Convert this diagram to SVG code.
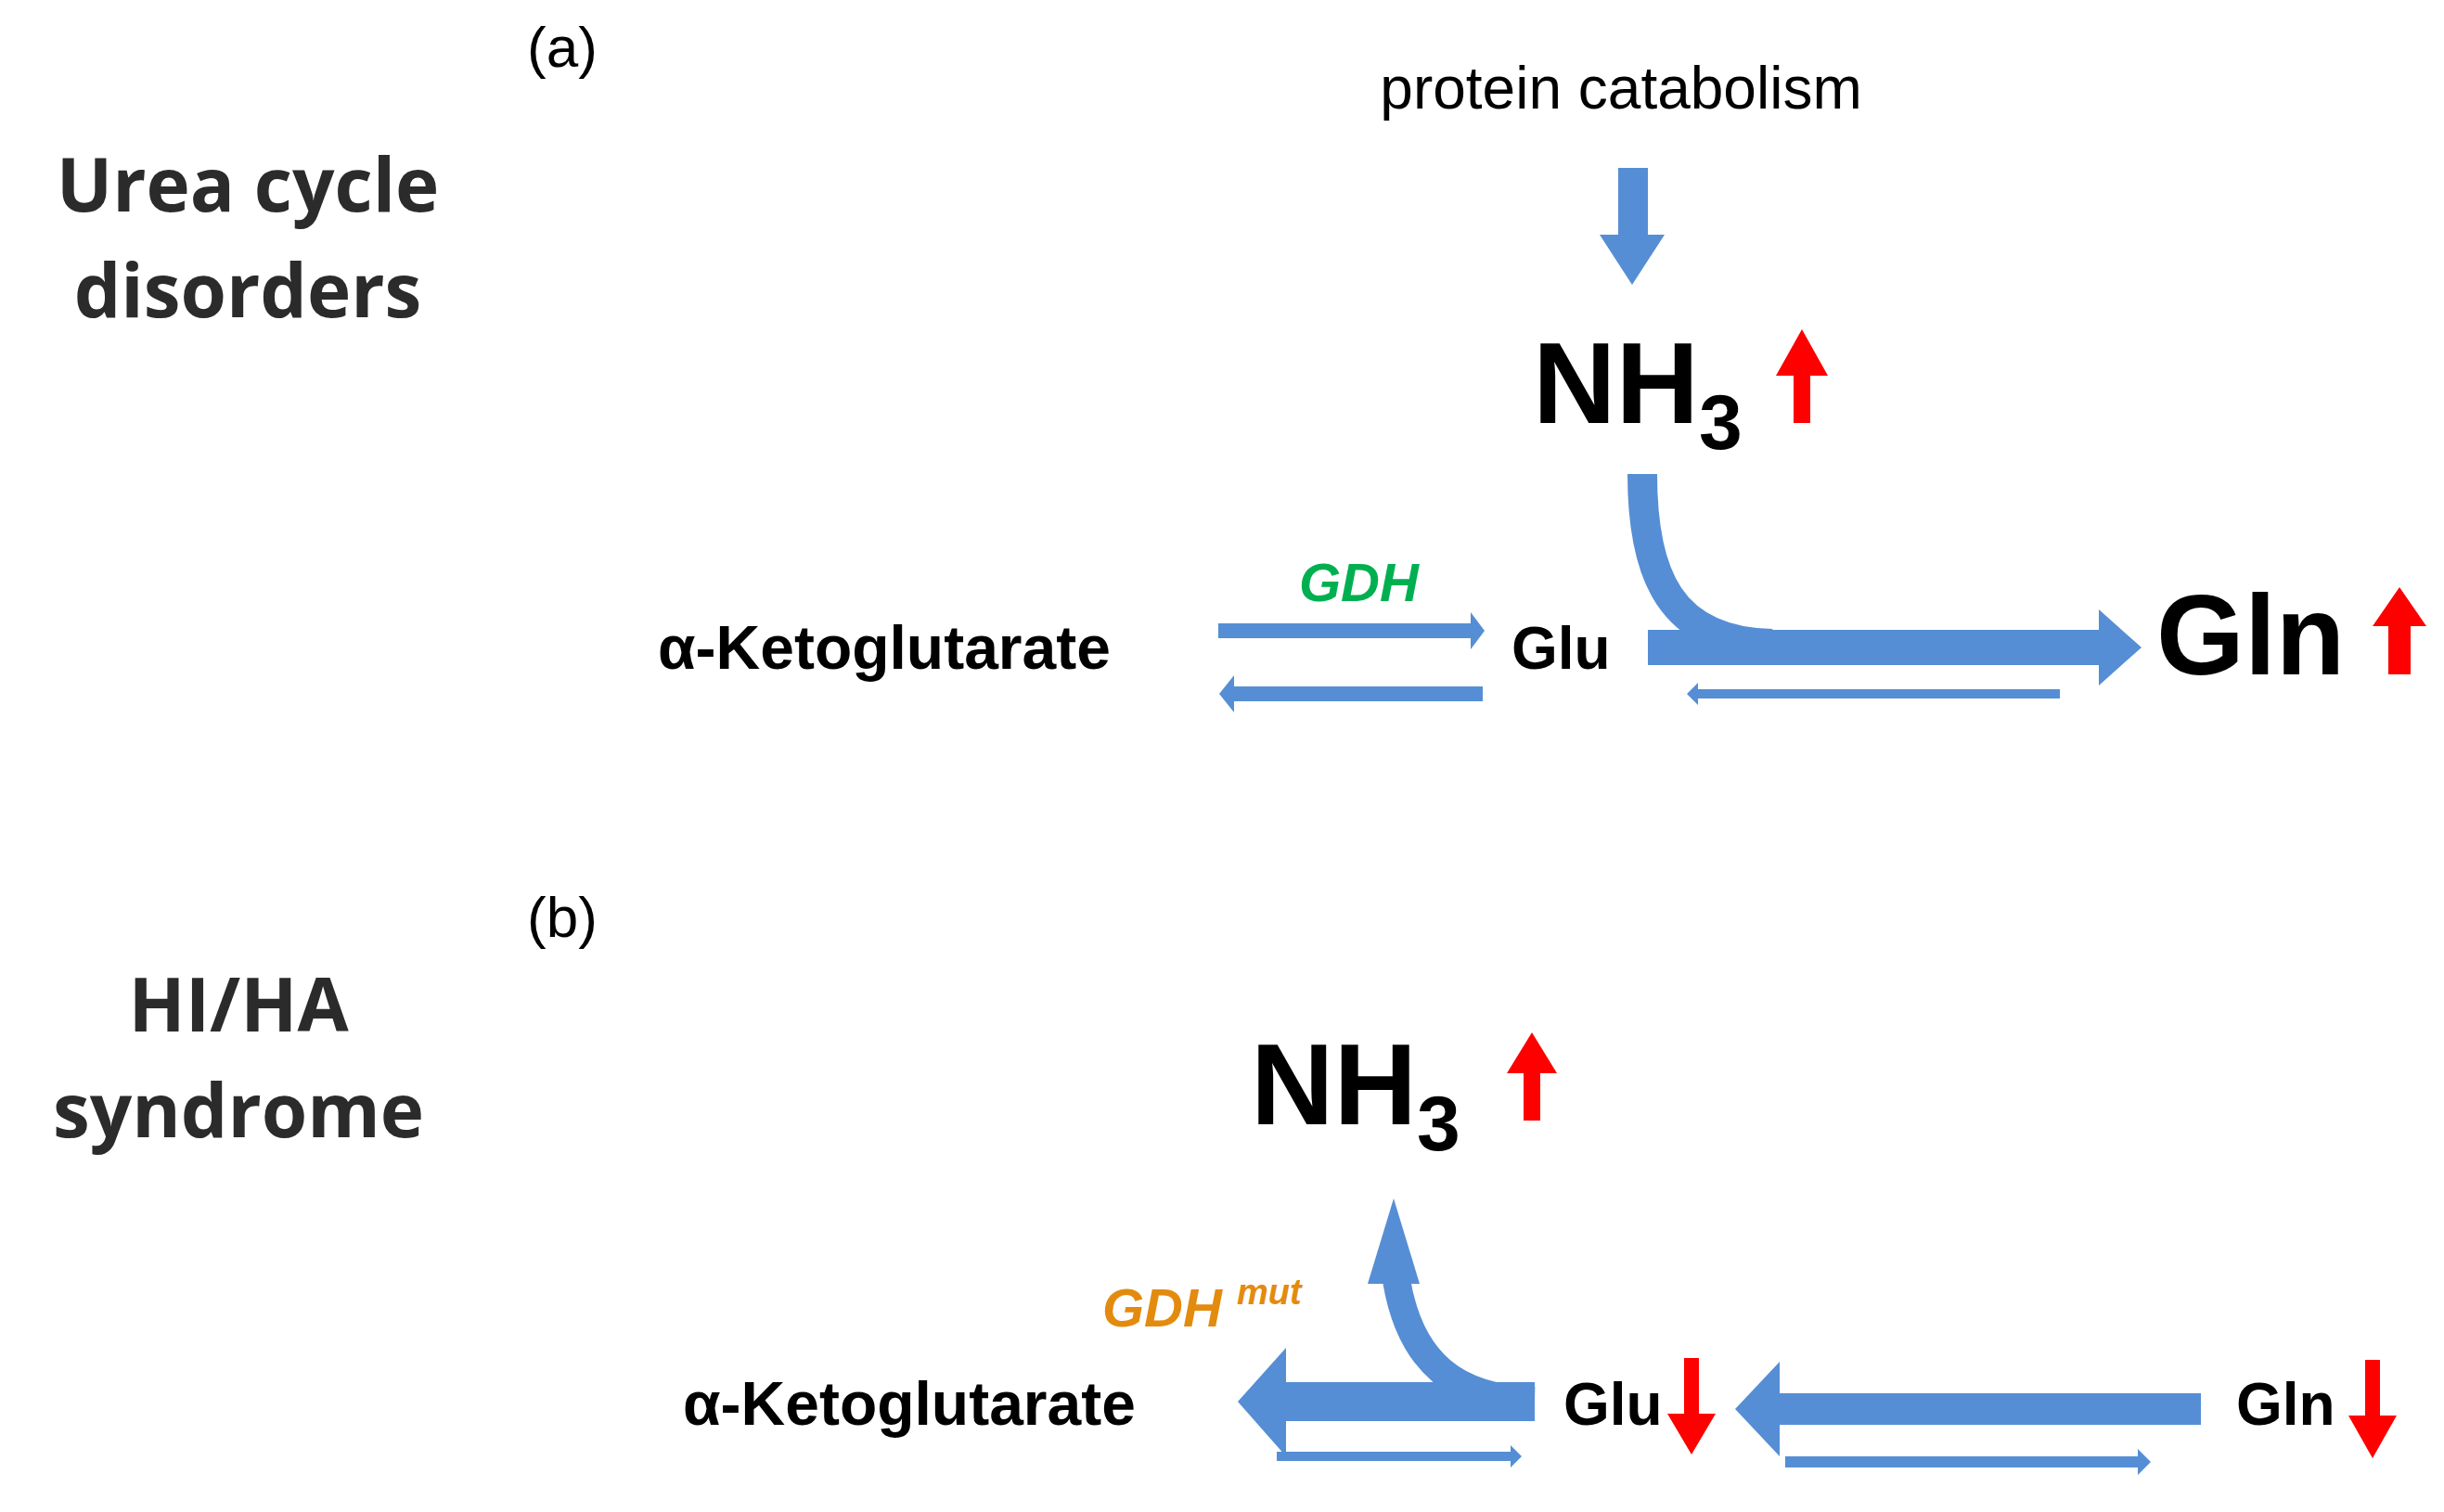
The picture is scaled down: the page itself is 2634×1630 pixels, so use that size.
<svg xmlns="http://www.w3.org/2000/svg" width="2634" height="1630" viewBox="0 0 2634 1630">
<style>
.t{font-family:"Liberation Sans",Arial,sans-serif;font-weight:bold;fill:#000}
.lbl{font-family:"Open Sans","DejaVu Sans",sans-serif;font-weight:bold;fill:#2b2b2b;font-size:80px;text-anchor:middle}
.pan{font-family:"Liberation Sans",Arial,sans-serif;font-size:62px;fill:#000}
.b{fill:#558ED5}
.r{fill:#FF0000}
</style>
<rect width="2634" height="1630" fill="#fff"/>
<g id="labels">
<text class="pan" x="568" y="72">(a)</text>
<text class="lbl" x="267" y="228">Urea cycle</text>
<text class="lbl" x="267" y="342">disorders</text>
<text class="pan" x="568" y="1010">(b)</text>
<text class="lbl" x="257" y="1112">HI/HA</text>
<text class="lbl" x="257" y="1226">syndrome</text>
</g>
<g id="a-protein"><text x="1747" y="117" text-anchor="middle" style="font-family:'Liberation Sans',Arial,sans-serif;font-size:64px;fill:#000">protein catabolism</text></g>
<g id="a-nh3"><text class="t" x="1652" y="456" font-size="124">NH<tspan font-size="84" dy="28">3</tspan></text>
<path class="r" d="M1933 456V405H1914L1942 355L1970 405H1951V456Z"/></g>
<g id="a-aKG"><text class="t" x="709" y="721" font-size="66">α-Ketoglutarate</text></g>
<g id="a-glu"><text class="t" x="1629" y="721" font-size="64">Glu</text></g>
<g id="a-gln"><text class="t" x="2324" y="727" font-size="122">Gln</text>
<path class="r" d="M2574 727V675H2557L2586 633L2615 675H2598V727Z"/></g>
<g id="a-gdh"><text x="1400" y="648" style="font-family:'Liberation Sans',Arial,sans-serif;font-weight:bold;font-style:italic;font-size:58px;fill:#00B050">GDH</text></g>
<g id="b-nh3"><text class="t" x="1348" y="1212" font-size="124">NH<tspan font-size="84" dy="28">3</tspan></text>
<path class="r" d="M1642 1208V1157H1624L1651 1113L1678 1157H1660V1208Z"/></g>
<g id="b-aKG"><text class="t" x="736" y="1536" font-size="66">α-Ketoglutarate</text></g>
<g id="b-glu"><text class="t" x="1685" y="1536" font-size="64">Glu</text>
<path class="r" d="M1815 1464V1524H1797L1823 1568L1849 1524H1831V1464Z"/></g>
<g id="b-gln"><text class="t" x="2410" y="1536" font-size="64">Gln</text>
<path class="r" d="M2549 1466V1526H2531L2557 1572L2583 1526H2565V1466Z"/></g>
<g id="b-gdh"><text x="1188" y="1430" style="font-family:'Liberation Sans',Arial,sans-serif;font-weight:bold;font-style:italic;font-size:58px;fill:#E38B0E">GDH <tspan font-size="38" dy="-24">mut</tspan></text></g>
<g id="connectors">
<path class="b" d="M1744 181H1776V253H1794L1759 307L1724 253H1744Z"/>
<path d="M1770 511C1770 620 1800 692 1910 694" fill="none" stroke="#558ED5" stroke-width="32"/>
<path class="b" d="M1776 679H2262V657L2308 698L2262 739V717H1776Z"/>
<path class="b" d="M2220 743V753H1830V760L1818 748L1830 736V743Z"/>
<path class="b" d="M1313 672H1585V660L1600 680L1585 700V688H1313Z"/>
<path class="b" d="M1598 740V756H1330V768L1314 748L1330 728V740Z"/>
<path d="M1654 1510C1570 1508 1520 1470 1505 1380" fill="none" stroke="#558ED5" stroke-width="30"/>
<path class="b" d="M1474 1384H1530L1502 1292Z"/>
<path class="b" d="M1654 1490V1532H1386V1570L1334 1511L1386 1453V1490Z"/>
<path class="b" d="M1376 1565H1628V1558L1640 1570L1628 1582V1575H1376Z"/>
<path class="b" d="M2372 1502V1536H1918V1570L1870 1519L1918 1468V1502Z"/>
<path class="b" d="M1924 1570H2304V1562L2318 1576L2304 1590V1582H1924Z"/>
</g>
</svg>
